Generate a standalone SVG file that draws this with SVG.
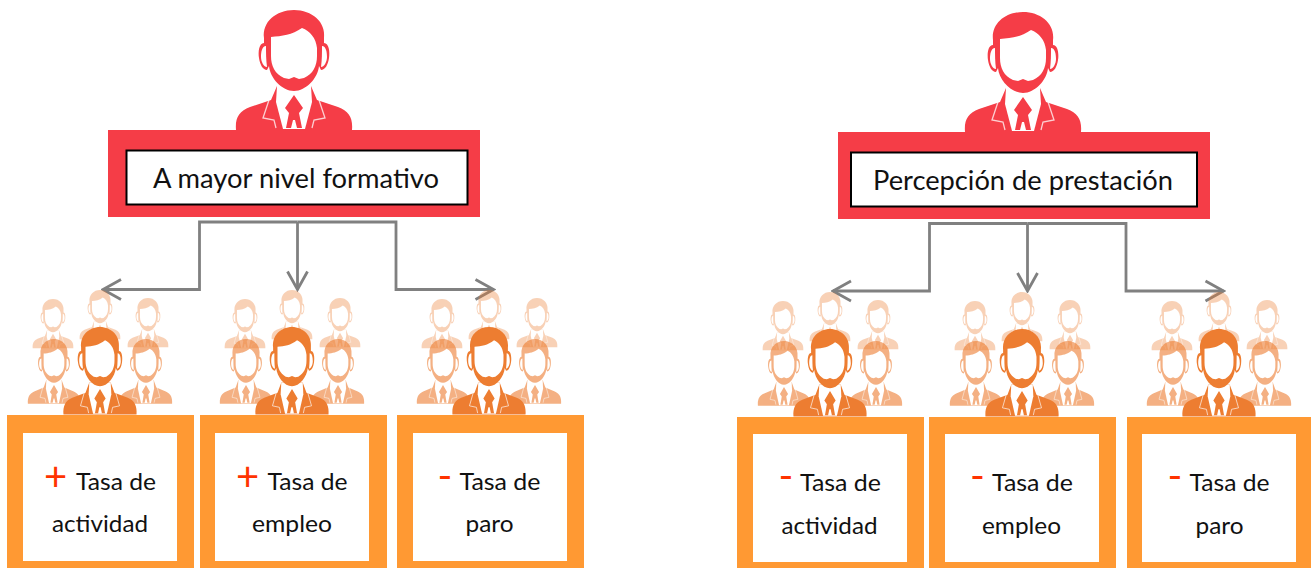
<svg xmlns="http://www.w3.org/2000/svg" xmlns:xlink="http://www.w3.org/1999/xlink" width="1311" height="568" viewBox="0 0 1311 568">
<style>
text{font-family:Lato,"Noto Sans","Liberation Sans",sans-serif;fill:#111;text-anchor:middle}
.t{font-size:24px}
.h{font-size:27px}
.s{font-size:40px;fill:#FF3300}
.o{fill:#FF9933}
.r{fill:#F53D47}
.k{fill:#fff;stroke:#000;stroke-width:2}
.w{fill:#fff}
.l{fill:none;stroke:#fff;stroke-width:1.300;stroke-opacity:.75}
.c{fill:none;stroke:#808080;stroke-width:2.800}
.red{fill:#F53D47}
.org{fill:#ED7D31}
</style>
<defs>
<marker id="a" viewBox="0 0 22 24" refX="20" refY="12" markerWidth="22" markerHeight="24" markerUnits="userSpaceOnUse" orient="auto"><path d="M2,2L20,12L2,22" fill="none" stroke="#808080" stroke-width="2.800"/></marker>
<symbol id="p" overflow="visible">
<path d="M-58,120C-59,108-55,101-44,97L-23,90L-17,76L17,76L23,90L44,97C55,101 59,108 58,120Z"/>
<path class="w" d="M-17,76L17,76L18,92L11,119L-11,119L-18,92Z"/>
<path d="M0,85L9,98L5,103L8,118L3,118L1,110L-1,110L-3,118L-8,118L-5,103L-9,98Z"/>
<path class="l" d="M-25,90L-31,108L-20,110L-18,118M25,90L31,108L20,110L18,118"/>
<path d="M-30,28C-32,12-18,0 0,0C18,0 32,12 30,28L30,33C35,33 36,42 35,48C34,55 31,60 27,60L25,56C24,68 12,81 0,81C-12,81-24,68-25,56L-27,60C-31,60-34,55-35,48C-36,42-35,33-30,33Z"/>
<path class="w" d="M-23,27C-12,26-2,25 8,18C16,21 22,28 23,38L23,46C23,56 19,64 10,68L5,69L0,67L-5,69L-10,68C-19,64-23,56-23,46Z"/>
<path class="w" d="M-28,36C-32,36-33,42-33,47C-33,52-30,57-27,57C-28,50-28,42-28,36Z"/>
<path class="w" d="M28,36C32,36 33,42 33,47C33,52 30,57 27,57C28,50 28,42 28,36Z"/>
</symbol>
<g id="crowd">
<use xlink:href="#p" href="#p" opacity=".35" transform="translate(-47,-28) scale(.35,.41)"/>
<use xlink:href="#p" href="#p" opacity=".35" transform="translate(0,-37) scale(.35,.41)"/>
<use xlink:href="#p" href="#p" opacity=".35" transform="translate(48,-29) scale(.35,.41)"/>
<use xlink:href="#p" href="#p" opacity=".6" transform="translate(-46,12) scale(.45,.54)"/>
<use xlink:href="#p" href="#p" opacity=".6" transform="translate(46,12) scale(.45,.54)"/>
<use xlink:href="#p" href="#p" transform="scale(.63,.73)"/>
</g>
</defs>
<rect width="1311" height="568" fill="#fff"/>

<g id="connectors">
<path class="c" marker-end="url(#a)" d="M297.500,222H199.500V289.500H103"/>
<path class="c" marker-end="url(#a)" d="M297.500,222H396V289.500H493.500"/>
<path class="c" marker-end="url(#a)" d="M297.500,222V289.500"/>
<path class="c" marker-end="url(#a)" d="M1027.500,223.500H929.500V291H833"/>
<path class="c" marker-end="url(#a)" d="M1027.500,223.500H1126V291H1223.500"/>
<path class="c" marker-end="url(#a)" d="M1027.500,223.500V291"/>
</g>

<g id="top-left" class="red">
<use xlink:href="#p" href="#p" transform="translate(294,10)"/>
<rect class="r" x="108" y="130" width="372" height="87"/>
<rect class="k" x="126.500" y="150.500" width="341" height="54"/>
<text class="h" x="296" y="188" textLength="286" lengthAdjust="spacingAndGlyphs">A mayor nivel formativo</text>
</g>
<g id="top-right" class="red">
<use xlink:href="#p" href="#p" transform="translate(1023,12)"/>
<rect class="r" x="838" y="132" width="372" height="87"/>
<rect class="k" x="851" y="152.500" width="346" height="54"/>
<text class="h" x="1023" y="190" textLength="300" lengthAdjust="spacingAndGlyphs">Percepción de prestación</text>
</g>

<g id="n1">
<use xlink:href="#crowd" href="#crowd" class="org" transform="translate(100,327)"/>
<rect class="o" x="7" y="415" width="187" height="153"/><rect class="w" x="23" y="433" width="154" height="128"/>
<text class="s" x="55.500" y="491">+</text><text class="t" x="116" y="490" textLength="80" lengthAdjust="spacingAndGlyphs">Tasa de</text><text class="t" x="100" y="532" textLength="96" lengthAdjust="spacingAndGlyphs">actividad</text>
</g>
<g id="n2">
<use xlink:href="#crowd" href="#crowd" class="org" transform="translate(292,327)"/>
<rect class="o" x="200" y="415" width="187" height="153"/><rect class="w" x="215" y="433" width="154" height="128"/>
<text class="s" x="247.500" y="491">+</text><text class="t" x="307.500" y="490" textLength="80" lengthAdjust="spacingAndGlyphs">Tasa de</text><text class="t" x="292" y="532" textLength="80" lengthAdjust="spacingAndGlyphs">empleo</text>
</g>
<g id="n3">
<use xlink:href="#crowd" href="#crowd" class="org" transform="translate(489,327)"/>
<rect class="o" x="397" y="415" width="187" height="153"/><rect class="w" x="413" y="433" width="154" height="128"/>
<text class="s" x="445" y="490">-</text><text class="t" x="500" y="490" textLength="81" lengthAdjust="spacingAndGlyphs">Tasa de</text><text class="t" x="489.500" y="532" textLength="48" lengthAdjust="spacingAndGlyphs">paro</text>
</g>
<g id="n4">
<use xlink:href="#crowd" href="#crowd" class="org" transform="translate(830,329)"/>
<rect class="o" x="737" y="417" width="187" height="151"/><rect class="w" x="753" y="434" width="154" height="128"/>
<text class="s" x="786" y="490">-</text><text class="t" x="840.500" y="491" textLength="81" lengthAdjust="spacingAndGlyphs">Tasa de</text><text class="t" x="829.500" y="534" textLength="96" lengthAdjust="spacingAndGlyphs">actividad</text>
</g>
<g id="n5">
<use xlink:href="#crowd" href="#crowd" class="org" transform="translate(1022,329)"/>
<rect class="o" x="929" y="417" width="187" height="151"/><rect class="w" x="945" y="434" width="154" height="128"/>
<text class="s" x="977.500" y="490">-</text><text class="t" x="1032.500" y="491" textLength="81" lengthAdjust="spacingAndGlyphs">Tasa de</text><text class="t" x="1021.500" y="534" textLength="79" lengthAdjust="spacingAndGlyphs">empleo</text>
</g>
<g id="n6">
<use xlink:href="#crowd" href="#crowd" class="org" transform="translate(1219,329)"/>
<rect class="o" x="1127" y="417" width="184" height="151"/><rect class="w" x="1142" y="434" width="154" height="128"/>
<text class="s" x="1175" y="490">-</text><text class="t" x="1229.500" y="491" textLength="80" lengthAdjust="spacingAndGlyphs">Tasa de</text><text class="t" x="1219.500" y="534" textLength="48" lengthAdjust="spacingAndGlyphs">paro</text>
</g>
</svg>
